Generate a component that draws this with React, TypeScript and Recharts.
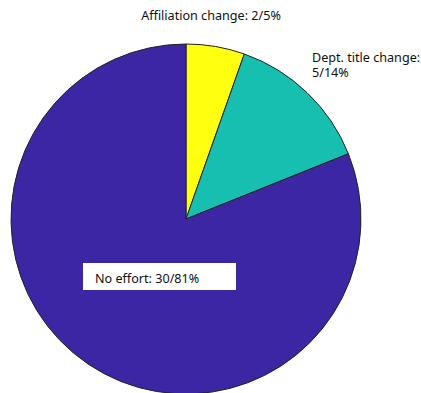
import React from 'react';
import { PieChart, Pie, Cell } from 'recharts';

const categories = ['Affiliation change', 'Dept. title change', 'No effort'];
const counts = [2, 5, 30];
const percents = ['5%', '14%', '81%'];
const colors = ['#FFFF10', '#17BFB1', '#3C26A4'];

const data = categories.map((name, i) => ({ name, value: counts[i], pct: percents[i] }));

const FONT = '"Noto Sans", "Open Sans", sans-serif';
const FS = 12.6;

const renderLabel = (props: any) => {
  const { cx, cy, index } = props;
  const d = data[index];
  const txt = `${d.value}/${d.pct}`;
  if (index === 0) {
    return (
      <text x={cx + 25} y={cy - 199} textAnchor="middle" fontFamily={FONT} fontSize={FS} fill="#111">
        {`${d.name}: ${txt}`}
      </text>
    );
  }
  if (index === 1) {
    return (
      <text x={cx + 126} y={cy - 157} textAnchor="start" fontFamily={FONT} fontSize={FS} fill="#111">
        <tspan x={cx + 126}>{`${d.name}:`}</tspan>
        <tspan x={cx + 126} dy={14.5}>{txt}</tspan>
      </text>
    );
  }
  return (
    <g>
      <rect x={cx - 103} y={cy + 44} width={153} height={27} fill="#fff" />
      <text x={cx - 91} y={cy + 64} textAnchor="start" fontFamily={FONT} fontSize={FS} fill="#111">
        {`${d.name}: ${txt}`}
      </text>
    </g>
  );
};

export default function App() {
  return (
    <div style={{ position: 'absolute', left: 0, top: 0, width: 421, height: 393, background: '#fff' }}>
      <PieChart width={421} height={393} margin={{ top: 0, right: 0, bottom: 0, left: 0 }}>
        <Pie
          data={data}
          dataKey="value"
          cx={186}
          cy={219}
          outerRadius={175}
          startAngle={90}
          endAngle={-270}
          stroke="#222"
          strokeWidth={1}
          label={renderLabel}
          labelLine={false}
          isAnimationActive={false}
        >
          {data.map((d, i) => (
            <Cell key={d.name} fill={colors[i]} />
          ))}
        </Pie>
      </PieChart>
    </div>
  );
}
